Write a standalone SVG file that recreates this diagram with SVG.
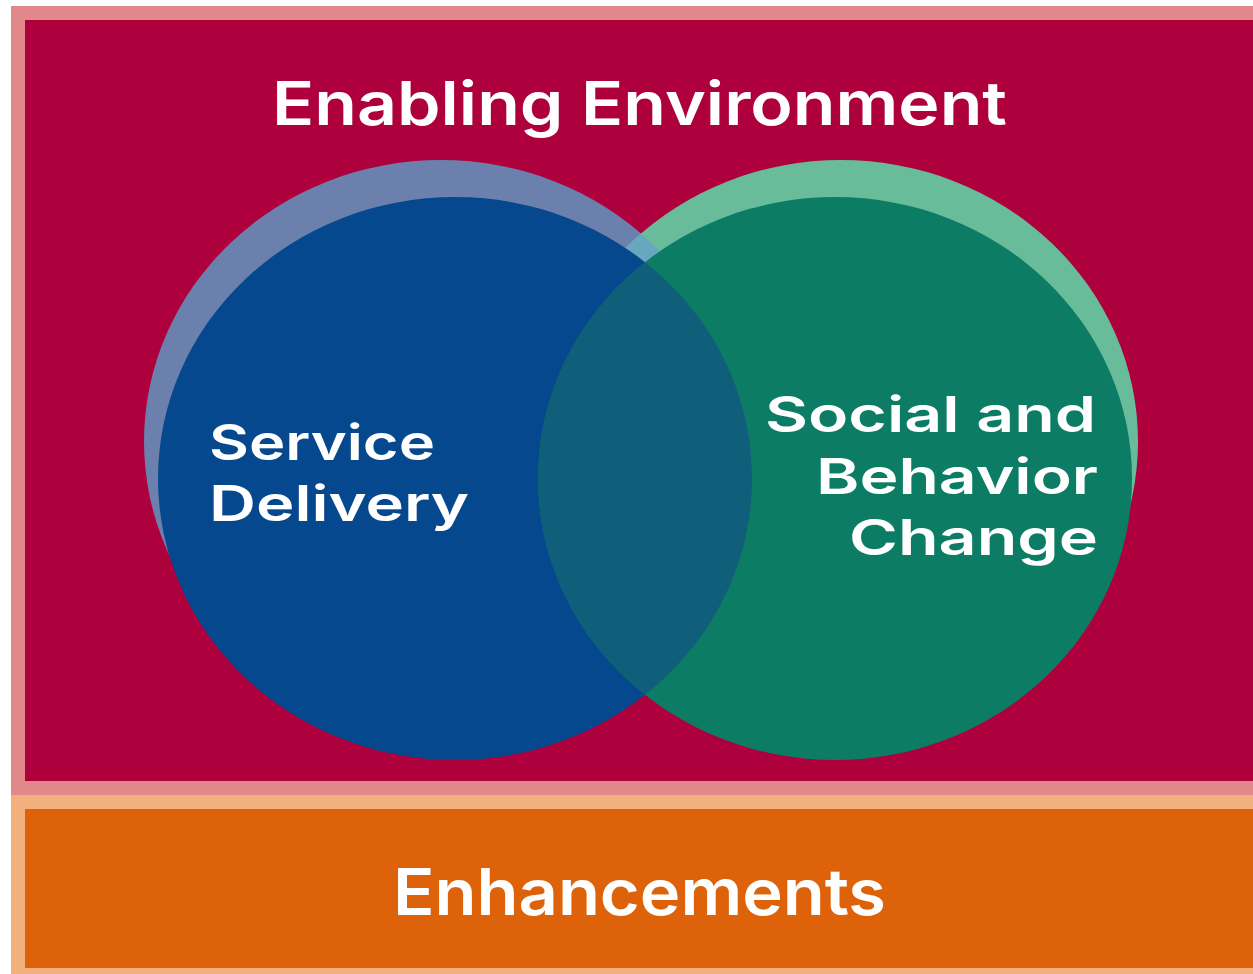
<svg xmlns="http://www.w3.org/2000/svg" width="1253" height="974" viewBox="0 0 1253 974">
<defs>
<style>
.lbl{font-family:Inter,"Open Sans","DejaVu Sans",sans-serif;font-weight:600;fill:#ffffff}
.sm{font-size:49px}
</style>
<clipPath id="clipLightBlue"><ellipse cx="441" cy="441.5" rx="297" ry="281.5"/></clipPath>
<clipPath id="clipBlue"><ellipse cx="455" cy="478.5" rx="297" ry="281.5"/></clipPath>
</defs>
<rect width="1253" height="974" fill="#ffffff"/>
<g id="enabling-environment">
<rect x="11" y="6" width="1242" height="789" fill="#e2888a"/>
<rect x="25" y="20" width="1228" height="761" fill="#ad003c"/>
<text class="lbl" x="639.5" y="125" font-size="60" text-anchor="middle" textLength="735" lengthAdjust="spacingAndGlyphs">Enabling Environment</text>
</g>
<g id="enhancements">
<rect x="11" y="795" width="1242" height="179" fill="#f2b07d"/>
<rect x="25" y="809" width="1228" height="159" fill="#de620a"/>
<text class="lbl" x="639.5" y="915" font-size="64" text-anchor="middle" textLength="493" lengthAdjust="spacingAndGlyphs">Enhancements</text>
</g>
<g id="circles-back">
<ellipse cx="441" cy="441.5" rx="297" ry="281.5" fill="#6c80ad"/>
<ellipse cx="841" cy="441.5" rx="297" ry="281.5" fill="#69bc9a"/>
<ellipse cx="841" cy="441.5" rx="297" ry="281.5" fill="#68a8bf" clip-path="url(#clipLightBlue)"/>
</g>
<g id="service-delivery">
<ellipse cx="455" cy="478.5" rx="297" ry="281.5" fill="#06488e"/>
<text class="lbl sm" x="209" y="460" textLength="226" lengthAdjust="spacingAndGlyphs">Service</text>
<text class="lbl sm" x="209" y="521" textLength="260" lengthAdjust="spacingAndGlyphs">Delivery</text>
</g>
<g id="social-behavior-change">
<ellipse cx="835" cy="478.5" rx="297" ry="281.5" fill="#0c7c64"/>
<ellipse cx="835" cy="478.5" rx="297" ry="281.5" fill="#0f5f7b" clip-path="url(#clipBlue)"/>
<text class="lbl sm" x="1096" y="432" text-anchor="end" textLength="331" lengthAdjust="spacingAndGlyphs">Social and</text>
<text class="lbl sm" x="1098" y="494" text-anchor="end" textLength="282" lengthAdjust="spacingAndGlyphs">Behavior</text>
<text class="lbl sm" x="1098" y="555" text-anchor="end" textLength="249" lengthAdjust="spacingAndGlyphs">Change</text>
</g>
<g id="connectors"></g>
</svg>
